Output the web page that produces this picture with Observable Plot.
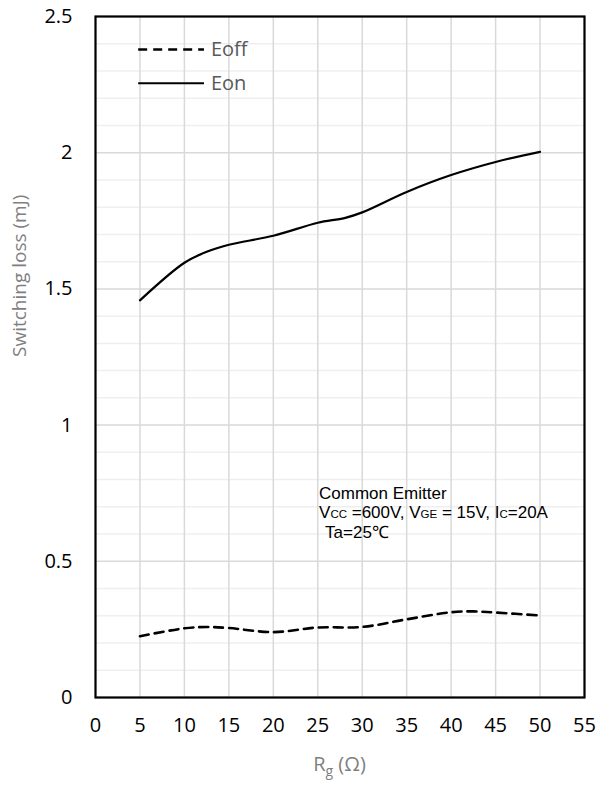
<!DOCTYPE html>
<html>
<head>
<meta charset="utf-8">
<script src="https://cdn.jsdelivr.net/npm/d3@7"></script>
<script src="https://cdn.jsdelivr.net/npm/@observablehq/plot@0.6"></script>
<style>
  html, body { margin: 0; padding: 0; background: #fff; }
</style>
</head>
<body>
<div id="chart"></div>
<script>
// ---- data ----
const rg = [5, 10, 12.5, 15, 20, 25, 28, 30, 35, 40, 45, 50];
const eon = [1.458, 1.596, 1.636, 1.662, 1.695, 1.743, 1.760, 1.781, 1.856, 1.918, 1.966, 2.003];
const rgOff = [5, 10, 12.5, 15, 20, 25, 30, 35, 40, 42.5, 45, 50];
const eoff = [0.225, 0.254, 0.259, 0.255, 0.240, 0.257, 0.259, 0.287, 0.313, 0.316, 0.312, 0.301];
const xTicks = [0, 5, 10, 15, 20, 25, 30, 35, 40, 45, 50, 55];
const yTicks = [0, 0.5, 1, 1.5, 2, 2.5];
const yMinor = [0.1,0.2,0.3,0.4,0.6,0.7,0.8,0.9,1.1,1.2,1.3,1.4,1.6,1.7,1.8,1.9,2.1,2.2,2.3,2.4];
const legendOff = [{name: "Eoff", x1: 4.8, x2: 12.2, y: 2.379}];
const legendOn = [{name: "Eon", x1: 4.8, x2: 12.2, y: 2.255}];
const annotation = {x: 25.2, y: 0.728};

const onData = rg.map((r, i) => ({x: r, y: eon[i]}));
const offData = rgOff.map((r, i) => ({x: r, y: eoff[i]}));

const tickFont = "Open Sans";
const DASH = "9,6";

const plot = Plot.plot({
  width: 598,
  height: 787,
  marginLeft: 95,
  marginRight: 14,
  marginTop: 16,
  marginBottom: 90,
  style: {fontFamily: tickFont, background: "#fff", overflow: "visible"},
  x: {domain: [0, 55]},
  y: {domain: [0, 2.5]},
  marks: [
    Plot.gridY(yMinor, {stroke: "#efefef", strokeOpacity: 1, strokeWidth: 1.5}),
    Plot.gridY(yTicks, {stroke: "#d9d9d9", strokeOpacity: 1, strokeWidth: 1.5}),
    Plot.gridX(xTicks, {stroke: "#d9d9d9", strokeOpacity: 1, strokeWidth: 1.5}),
    Plot.axisX({ticks: xTicks, tickSize: 0, tickPadding: 20, fontSize: 20, label: null, tickFormat: d => String(d), fill: "#000"}),
    Plot.axisY({ticks: yTicks, tickSize: 0, tickPadding: 23, fontSize: 20, label: null, tickFormat: d => String(d), fill: "#000"}),
    Plot.line(offData, {x: "x", y: "y", curve: "catmull-rom", stroke: "#000", strokeWidth: 2.6, strokeDasharray: DASH}),
    Plot.line(onData, {x: "x", y: "y", curve: "catmull-rom", stroke: "#000", strokeWidth: 2.2}),
    Plot.link(legendOff, {x1: "x1", x2: "x2", y1: "y", y2: "y", stroke: "#000", strokeWidth: 2.6, strokeDasharray: DASH}),
    Plot.link(legendOn, {x1: "x1", x2: "x2", y1: "y", y2: "y", stroke: "#000", strokeWidth: 2.2}),
    Plot.text(legendOff.concat(legendOn), {x: "x2", y: "y", text: "name", dx: 7, textAnchor: "start", fontSize: 20, fill: "#595959"}),
    Plot.text(["Switching loss (mJ)"], {frameAnchor: "left", rotate: -90, dx: -76, fontSize: 19, fill: "#7f7f7f"}),
    Plot.frame({stroke: "#000", strokeWidth: 2.2})
  ]
});

document.getElementById("chart").appendChild(plot);

// Post-process: labels with subscripts
const svg = d3.select(plot);
const sx = plot.scale("x"), sy = plot.scale("y");

// x axis label R_g (Ω)
const xl = svg.append("text")
  .attr("x", (95 + 584) / 2)
  .attr("y", 771)
  .attr("text-anchor", "middle")
  .attr("font-family", tickFont)
  .attr("font-size", 20)
  .attr("fill", "#7f7f7f");
xl.append("tspan").text("R");
xl.append("tspan").attr("font-size", 14).attr("dy", 5).text("g");
xl.append("tspan").attr("dy", -5).text(" (Ω)");

// annotation
const ax = sx.apply(annotation.x), ay = sy.apply(annotation.y);
const ann = svg.append("g")
  .attr("font-family", "Liberation Sans, Arial, sans-serif")
  .attr("font-size", 17)
  .attr("text-anchor", "start")
  .attr("fill", "#000");
ann.append("text").attr("x", ax).attr("y", ay).text("Common Emitter");
const l2 = ann.append("text").attr("x", ax).attr("y", ay + 19.5);
l2.append("tspan").text("V");
l2.append("tspan").attr("font-size", 11.5).text("CC");
l2.append("tspan").text(" =600V, V");
l2.append("tspan").attr("font-size", 11.5).text("GE");
l2.append("tspan").text(" = 15V, I");
l2.append("tspan").attr("font-size", 11.5).text("C");
l2.append("tspan").text("=20A");
ann.append("text").attr("x", ax + 6).attr("y", ay + 39).text("Ta=25℃");
</script>
</body>
</html>
